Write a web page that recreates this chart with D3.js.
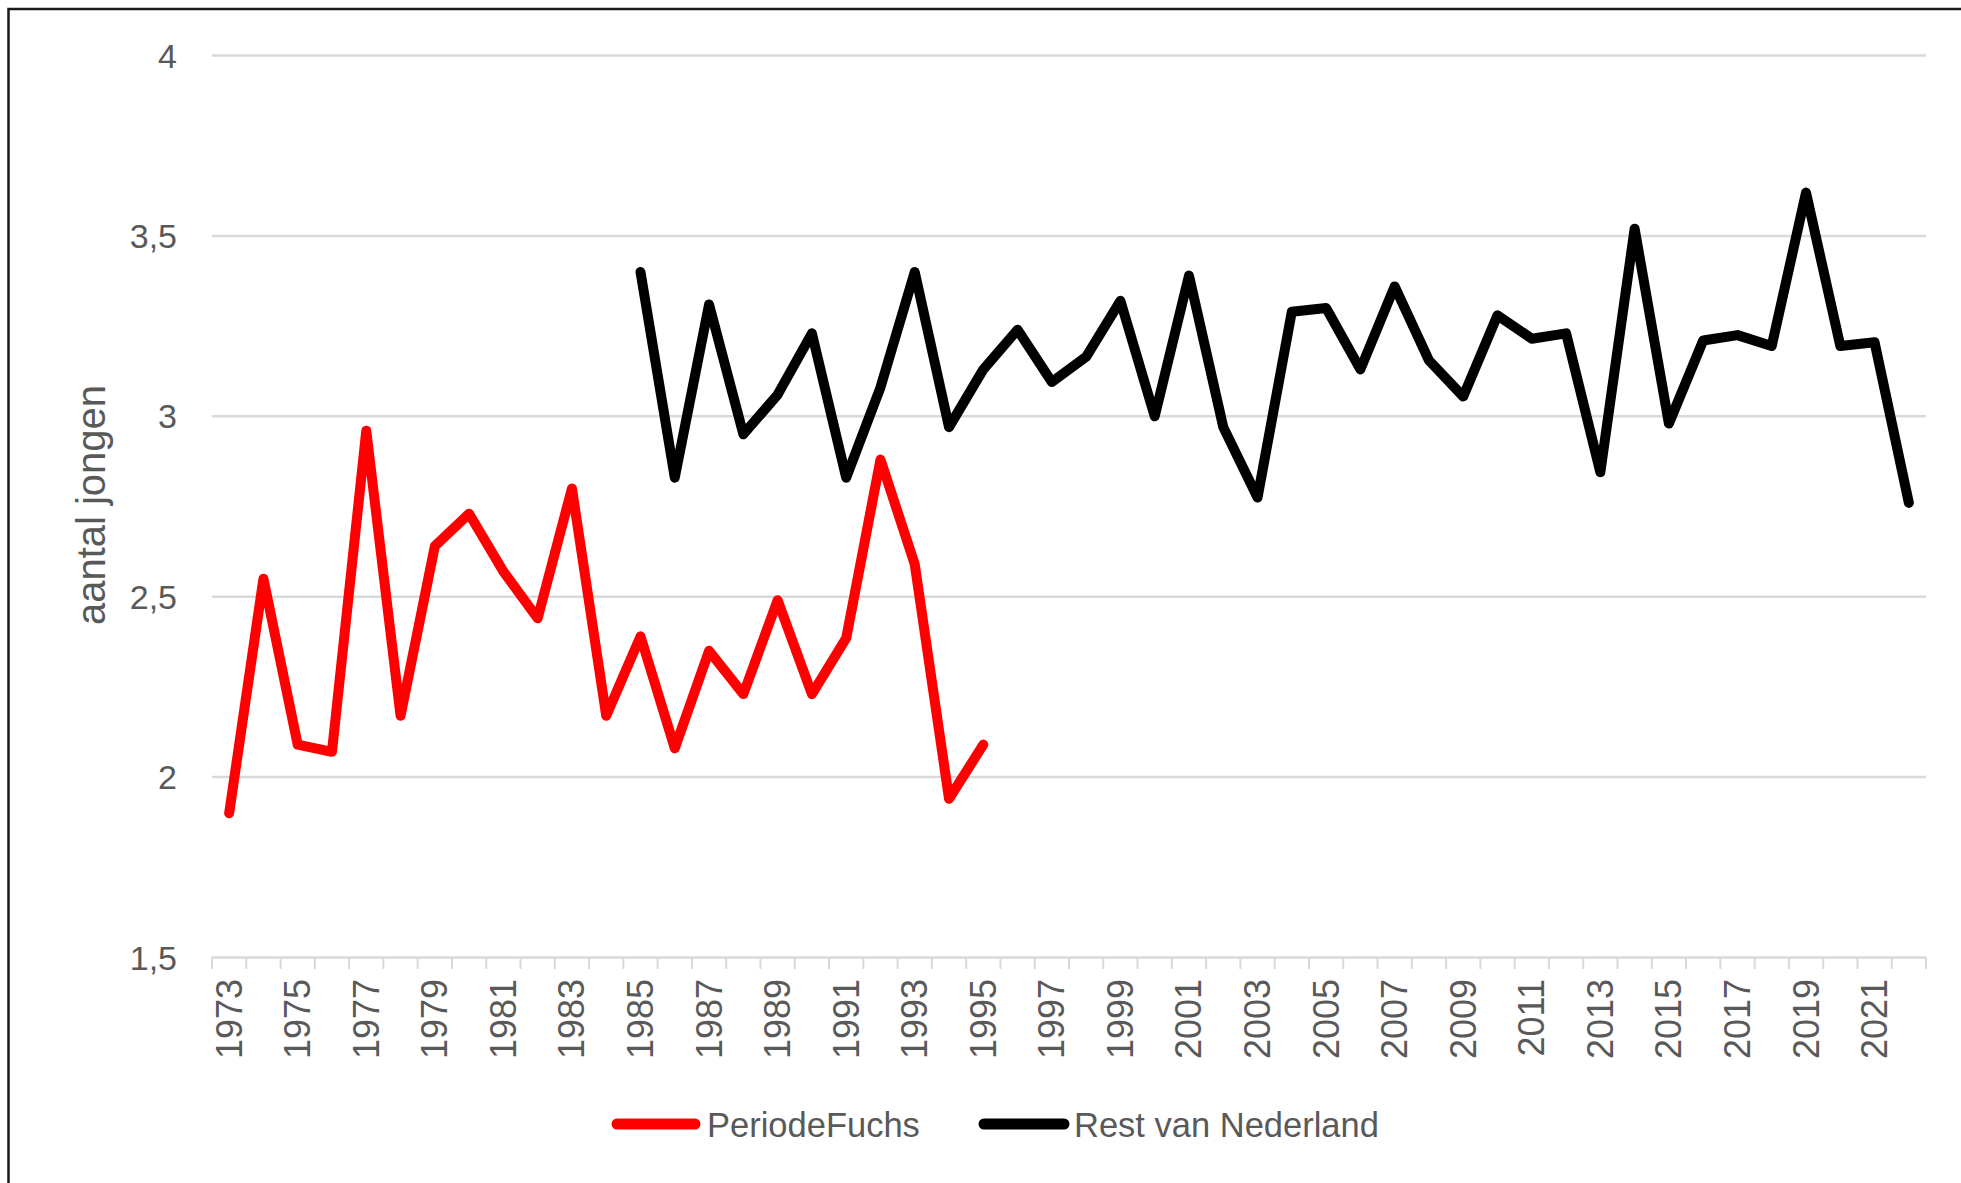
<!DOCTYPE html>
<html>
<head>
<meta charset="utf-8">
<script src="https://cdn.jsdelivr.net/npm/d3@7"></script>
<style>
  html, body { margin: 0; padding: 0; background: #fff; }
  svg { display: block; }
  text { font-family: "Liberation Sans", Arial, sans-serif; fill: #595959; }
</style>
</head>
<body>
<svg id="chart" width="1961" height="1183"></svg>
<script>
const years = d3.range(1973, 2023);
const yTicks = [1.5, 2, 2.5, 3, 3.5, 4];
const yTickLabels = ["1,5", "2", "2,5", "3", "3,5", "4"];
const seriesNames = ["PeriodeFuchs", "Rest van Nederland"];
const seriesColors = ["#ff0000", "#000000"];

// PeriodeFuchs: 1973–1995
const fuchsYears = d3.range(1973, 1996);
const fuchsValues = [1.90, 2.55, 2.09, 2.07, 2.96, 2.17, 2.64, 2.73, 2.57, 2.44, 2.80, 2.17,
                     2.39, 2.08, 2.35, 2.23, 2.49, 2.23, 2.385, 2.88, 2.59, 1.94, 2.09];
// Rest van Nederland: 1985–2022
const restYears = d3.range(1985, 2023);
const restValues = [3.40, 2.83, 3.31, 2.95, 3.06, 3.23, 2.83, 3.08, 3.40, 2.97, 3.13, 3.24,
                    3.095, 3.165, 3.32, 3.00, 3.39, 2.97, 2.775, 3.29, 3.30, 3.13, 3.36, 3.155,
                    3.055, 3.28, 3.215, 3.23, 2.845, 3.52, 2.98, 3.21, 3.225, 3.195, 3.62, 3.195,
                    3.205, 2.76];

const svg = d3.select("#chart");

// outer border (right and bottom edges fall outside the picture)
svg.append("rect")
  .attr("x", 8.5).attr("y", 9).attr("width", 2000).attr("height", 2000)
  .attr("fill", "none").attr("stroke", "#1a1a1a").attr("stroke-width", 2.5);

const x = d3.scaleBand().domain(years).range([212, 1926]).padding(0);
const y = d3.scaleLinear().domain([1.5, 4]).range([957.5, 55.5]);

// gridlines
svg.append("g").selectAll("line").data(yTicks).join("line")
  .attr("x1", 212).attr("x2", 1926)
  .attr("y1", d => y(d)).attr("y2", d => y(d))
  .attr("stroke", "#d9d9d9").attr("stroke-width", 2.5);

// y labels
svg.append("g").selectAll("text").data(yTicks).join("text")
  .attr("x", 177).attr("y", d => y(d))
  .attr("text-anchor", "end").attr("dominant-baseline", "central")
  .style("font-size", "34px")
  .text((d, i) => yTickLabels[i]);

// x axis: ticks at band boundaries
const bounds = years.map(v => x(v)).concat([x(years[years.length - 1]) + x.bandwidth()]);
svg.append("g").selectAll("line").data(bounds).join("line")
  .attr("x1", d => d).attr("x2", d => d)
  .attr("y1", 957.5).attr("y2", 969)
  .attr("stroke", "#d9d9d9").attr("stroke-width", 2);

svg.append("g").selectAll("text").data(years.filter((v, i) => i % 2 === 0)).join("text")
  .attr("transform", d => `translate(${x(d) + x.bandwidth() / 2},979) rotate(-90)`)
  .attr("text-anchor", "end").attr("dominant-baseline", "central")
  .style("font-size", "36px")
  .text(d => d);

// y axis title
svg.append("text")
  .attr("transform", "translate(91,505) rotate(-90)")
  .attr("text-anchor", "middle").attr("dominant-baseline", "central")
  .style("font-size", "40px")
  .text("aantal jongen");

// lines
const line = d3.line()
  .x(d => x(d[0]) + x.bandwidth() / 2)
  .y(d => y(d[1]));

const data = [
  fuchsYears.map((v, i) => [v, fuchsValues[i]]),
  restYears.map((v, i) => [v, restValues[i]])
];

svg.append("g").selectAll("path").data(data).join("path")
  .attr("d", line)
  .attr("fill", "none")
  .attr("stroke", (d, i) => seriesColors[i])
  .attr("stroke-width", 10)
  .attr("stroke-linejoin", "round")
  .attr("stroke-linecap", "round");

// legend
const legendItems = [
  { x1: 617, x2: 695, tx: 707 },
  { x1: 984, x2: 1064, tx: 1074 }
];
const lg = svg.append("g").selectAll("g").data(legendItems).join("g");
lg.append("line")
  .attr("x1", d => d.x1).attr("x2", d => d.x2)
  .attr("y1", 1124).attr("y2", 1124)
  .attr("stroke", (d, i) => seriesColors[i])
  .attr("stroke-width", 11).attr("stroke-linecap", "round");
lg.append("text")
  .attr("x", d => d.tx).attr("y", 1137)
  .style("font-size", "34.5px")
  .text((d, i) => seriesNames[i]);
</script>
</body>
</html>
